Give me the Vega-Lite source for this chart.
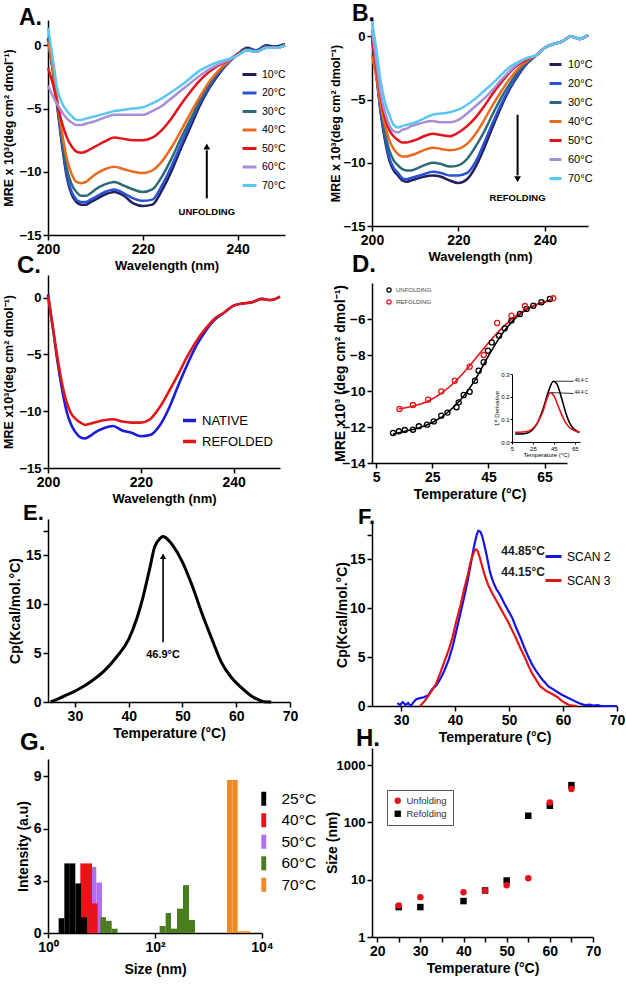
{
 "$schema": "https://vega.github.io/schema/vega-lite/v6.json",
 "background": "white",
 "padding": {"left": 2, "top": 3, "right": 2, "bottom": 2},
 "config": {
  "view": {"stroke": null},
  "font": "Liberation Sans",
  "axis": {"grid": false, "domainColor": "#000", "domainWidth": 1.5, "tickColor": "#000", "tickWidth": 1.5, "tickSize": 5, "labelFont": "Liberation Sans", "labelFontWeight": "bold", "labelColor": "#000", "labelFontSize": 14, "titleFont": "Liberation Sans", "titleFontWeight": "bold", "titleColor": "#000", "titleFontSize": 14, "labelPadding": 2, "labelFlush": false, "labelOverlap": false, "titlePadding": 3},
  "legend": {"labelFont": "Liberation Sans", "labelColor": "#000", "titleFont": "Liberation Sans"},
  "title": {"font": "Liberation Sans", "fontWeight": "bold", "color": "#000", "anchor": "start", "frame": "group", "fontSize": 24}
 },
 "datasets": {
  "A": [
   {"wl":200,"10°C":0.5,"20°C":0.6,"30°C":0.4,"40°C":0.3,"50°C":-1.8,"60°C":-3.2,"70°C":1.4},
   {"wl":201,"10°C":-2.0,"20°C":-1.8,"30°C":-1.8,"40°C":-1.8,"50°C":-3.0,"60°C":-4.0,"70°C":-1.0},
   {"wl":202,"10°C":-5.0,"20°C":-4.8,"30°C":-4.6,"40°C":-4.5,"50°C":-4.7,"60°C":-4.7,"70°C":-3.5},
   {"wl":203,"10°C":-8.0,"20°C":-7.8,"30°C":-7.4,"40°C":-7.0,"50°C":-6.2,"60°C":-5.3,"70°C":-4.6},
   {"wl":204,"10°C":-10.5,"20°C":-10.3,"30°C":-9.8,"40°C":-9.0,"50°C":-7.3,"60°C":-5.8,"70°C":-5.2},
   {"wl":205,"10°C":-11.8,"20°C":-11.6,"30°C":-11.0,"40°C":-10.2,"50°C":-8.0,"60°C":-6.1,"70°C":-5.6},
   {"wl":206,"10°C":-12.4,"20°C":-12.2,"30°C":-11.6,"40°C":-10.8,"50°C":-8.4,"60°C":-6.3,"70°C":-5.9},
   {"wl":207,"10°C":-12.6,"20°C":-12.4,"30°C":-11.9,"40°C":-10.9,"50°C":-8.5,"60°C":-6.3,"70°C":-5.9},
   {"wl":208,"10°C":-12.6,"20°C":-12.4,"30°C":-11.9,"40°C":-10.8,"50°C":-8.4,"60°C":-6.2,"70°C":-5.8},
   {"wl":209,"10°C":-12.4,"20°C":-12.2,"30°C":-11.7,"40°C":-10.5,"50°C":-8.2,"60°C":-6.1,"70°C":-5.7},
   {"wl":210,"10°C":-12.2,"20°C":-12.0,"30°C":-11.4,"40°C":-10.2,"50°C":-8.0,"60°C":-6.0,"70°C":-5.6},
   {"wl":212,"10°C":-11.8,"20°C":-11.6,"30°C":-11.0,"40°C":-9.8,"50°C":-7.6,"60°C":-5.7,"70°C":-5.4},
   {"wl":214,"10°C":-11.6,"20°C":-11.4,"30°C":-10.8,"40°C":-9.6,"50°C":-7.3,"60°C":-5.5,"70°C":-5.2},
   {"wl":216,"10°C":-11.9,"20°C":-11.7,"30°C":-11.1,"40°C":-9.8,"50°C":-7.4,"60°C":-5.5,"70°C":-5.1},
   {"wl":218,"10°C":-12.5,"20°C":-12.1,"30°C":-11.4,"40°C":-10.0,"50°C":-7.5,"60°C":-5.5,"70°C":-5.0},
   {"wl":220,"10°C":-12.7,"20°C":-12.3,"30°C":-11.6,"40°C":-10.1,"50°C":-7.5,"60°C":-5.5,"70°C":-4.9},
   {"wl":222,"10°C":-12.6,"20°C":-12.2,"30°C":-11.4,"40°C":-9.9,"50°C":-7.3,"60°C":-5.2,"70°C":-4.6},
   {"wl":224,"10°C":-11.5,"20°C":-11.1,"30°C":-10.4,"40°C":-9.2,"50°C":-6.7,"60°C":-4.8,"70°C":-4.2},
   {"wl":226,"10°C":-10.0,"20°C":-9.6,"30°C":-9.0,"40°C":-8.1,"50°C":-5.8,"60°C":-4.2,"70°C":-3.7},
   {"wl":228,"10°C":-8.2,"20°C":-7.9,"30°C":-7.4,"40°C":-6.8,"50°C":-4.7,"60°C":-3.6,"70°C":-3.2},
   {"wl":230,"10°C":-6.5,"20°C":-6.2,"30°C":-5.9,"40°C":-5.4,"50°C":-3.7,"60°C":-3.0,"70°C":-2.6},
   {"wl":232,"10°C":-4.8,"20°C":-4.6,"30°C":-4.4,"40°C":-4.1,"50°C":-2.8,"60°C":-2.4,"70°C":-2.0},
   {"wl":234,"10°C":-3.4,"20°C":-3.3,"30°C":-3.1,"40°C":-2.9,"50°C":-2.1,"60°C":-1.9,"70°C":-1.6},
   {"wl":236,"10°C":-2.3,"20°C":-2.2,"30°C":-2.1,"40°C":-2.0,"50°C":-1.6,"60°C":-1.5,"70°C":-1.3},
   {"wl":238,"10°C":-1.4,"20°C":-1.4,"30°C":-1.3,"40°C":-1.3,"50°C":-1.2,"60°C":-1.2,"70°C":-1.1},
   {"wl":240,"10°C":-0.7,"20°C":-0.7,"30°C":-0.7,"40°C":-0.7,"50°C":-0.7,"60°C":-0.8,"70°C":-0.8},
   {"wl":242,"10°C":-0.2,"20°C":-0.3,"30°C":-0.3,"40°C":-0.4,"50°C":-0.4,"60°C":-0.4,"70°C":-0.4},
   {"wl":244,"10°C":-0.4,"20°C":-0.4,"30°C":-0.5,"40°C":-0.5,"50°C":-0.5,"60°C":-0.5,"70°C":-0.5},
   {"wl":246,"10°C":0.0,"20°C":-0.1,"30°C":-0.1,"40°C":-0.2,"50°C":-0.2,"60°C":-0.2,"70°C":-0.2},
   {"wl":248,"10°C":-0.1,"20°C":-0.2,"30°C":-0.2,"40°C":-0.2,"50°C":-0.2,"60°C":-0.2,"70°C":-0.2},
   {"wl":250,"10°C":0.1,"20°C":0.0,"30°C":0.0,"40°C":0.0,"50°C":0.0,"60°C":0.0,"70°C":0.0}
  ],
  "B": [
   {"wl":200,"10°C":0.0,"20°C":0.0,"30°C":0.0,"40°C":-1.5,"50°C":-0.2,"60°C":0.5,"70°C":1.2},
   {"wl":201,"10°C":-3.0,"20°C":-3.0,"30°C":-2.8,"40°C":-3.2,"50°C":-2.5,"60°C":-2.0,"70°C":-1.0},
   {"wl":202,"10°C":-6.0,"20°C":-5.9,"30°C":-5.6,"40°C":-5.4,"50°C":-4.8,"60°C":-4.5,"70°C":-3.5},
   {"wl":203,"10°C":-8.2,"20°C":-8.0,"30°C":-7.6,"40°C":-7.0,"50°C":-6.4,"60°C":-6.0,"70°C":-5.2},
   {"wl":204,"10°C":-9.8,"20°C":-9.6,"30°C":-9.0,"40°C":-8.2,"50°C":-7.4,"60°C":-7.0,"70°C":-6.2},
   {"wl":205,"10°C":-10.6,"20°C":-10.4,"30°C":-9.8,"40°C":-8.9,"50°C":-7.9,"60°C":-7.5,"70°C":-7.0},
   {"wl":206,"10°C":-11.0,"20°C":-10.8,"30°C":-10.2,"40°C":-9.3,"50°C":-8.2,"60°C":-7.6,"70°C":-7.2},
   {"wl":207,"10°C":-11.4,"20°C":-11.2,"30°C":-10.5,"40°C":-9.5,"50°C":-8.4,"60°C":-7.4,"70°C":-7.1},
   {"wl":208,"10°C":-11.5,"20°C":-11.3,"30°C":-10.6,"40°C":-9.5,"50°C":-8.4,"60°C":-7.3,"70°C":-7.0},
   {"wl":209,"10°C":-11.4,"20°C":-11.2,"30°C":-10.6,"40°C":-9.4,"50°C":-8.3,"60°C":-7.1,"70°C":-6.9},
   {"wl":210,"10°C":-11.3,"20°C":-11.1,"30°C":-10.5,"40°C":-9.3,"50°C":-8.2,"60°C":-7.0,"70°C":-6.8},
   {"wl":212,"10°C":-11.1,"20°C":-10.9,"30°C":-10.2,"40°C":-9.0,"50°C":-7.9,"60°C":-6.8,"70°C":-6.5},
   {"wl":214,"10°C":-11.0,"20°C":-10.7,"30°C":-10.0,"40°C":-8.8,"50°C":-7.7,"60°C":-6.7,"70°C":-6.2},
   {"wl":216,"10°C":-11.1,"20°C":-10.8,"30°C":-10.1,"40°C":-8.9,"50°C":-7.8,"60°C":-6.8,"70°C":-6.1},
   {"wl":218,"10°C":-11.4,"20°C":-11.0,"30°C":-10.3,"40°C":-9.0,"50°C":-7.9,"60°C":-6.8,"70°C":-6.0},
   {"wl":220,"10°C":-11.6,"20°C":-11.0,"30°C":-10.2,"40°C":-8.9,"50°C":-7.6,"60°C":-6.6,"70°C":-5.8},
   {"wl":222,"10°C":-11.3,"20°C":-10.8,"30°C":-9.7,"40°C":-8.5,"50°C":-7.1,"60°C":-6.1,"70°C":-5.4},
   {"wl":224,"10°C":-10.3,"20°C":-9.9,"30°C":-8.7,"40°C":-7.7,"50°C":-6.4,"60°C":-5.5,"70°C":-4.9},
   {"wl":226,"10°C":-8.8,"20°C":-8.4,"30°C":-7.5,"40°C":-6.6,"50°C":-5.5,"60°C":-4.9,"70°C":-4.3},
   {"wl":228,"10°C":-7.1,"20°C":-6.8,"30°C":-6.1,"40°C":-5.4,"50°C":-4.5,"60°C":-4.2,"70°C":-3.7},
   {"wl":230,"10°C":-5.5,"20°C":-5.3,"30°C":-4.8,"40°C":-4.3,"50°C":-3.6,"60°C":-3.4,"70°C":-3.0},
   {"wl":232,"10°C":-4.1,"20°C":-4.0,"30°C":-3.7,"40°C":-3.3,"50°C":-2.8,"60°C":-2.7,"70°C":-2.4},
   {"wl":234,"10°C":-3.0,"20°C":-2.9,"30°C":-2.7,"40°C":-2.5,"50°C":-2.2,"60°C":-2.1,"70°C":-2.0},
   {"wl":236,"10°C":-2.1,"20°C":-2.1,"30°C":-2.0,"40°C":-1.9,"50°C":-1.8,"60°C":-1.7,"70°C":-1.7},
   {"wl":238,"10°C":-1.5,"20°C":-1.5,"30°C":-1.5,"40°C":-1.5,"50°C":-1.5,"60°C":-1.5,"70°C":-1.5},
   {"wl":240,"10°C":-0.9,"20°C":-0.9,"30°C":-0.9,"40°C":-0.9,"50°C":-0.9,"60°C":-0.9,"70°C":-0.9},
   {"wl":242,"10°C":-0.6,"20°C":-0.6,"30°C":-0.6,"40°C":-0.6,"50°C":-0.6,"60°C":-0.6,"70°C":-0.6},
   {"wl":244,"10°C":-0.4,"20°C":-0.4,"30°C":-0.4,"40°C":-0.4,"50°C":-0.4,"60°C":-0.4,"70°C":-0.4},
   {"wl":246,"10°C":0.0,"20°C":0.0,"30°C":0.0,"40°C":0.0,"50°C":0.0,"60°C":0.0,"70°C":0.0},
   {"wl":248,"10°C":-0.2,"20°C":-0.2,"30°C":-0.2,"40°C":-0.2,"50°C":-0.2,"60°C":-0.2,"70°C":-0.2},
   {"wl":250,"10°C":0.1,"20°C":0.1,"30°C":0.1,"40°C":0.1,"50°C":0.1,"60°C":0.1,"70°C":0.1}
  ],
  "C": [
   {"wl":200,"NATIVE":0.3,"REFOLDED":0.2},{"wl":201,"NATIVE":-2.5,"REFOLDED":-2.5},{"wl":202,"NATIVE":-5.5,"REFOLDED":-5.2},
   {"wl":203,"NATIVE":-8.0,"REFOLDED":-7.5},{"wl":204,"NATIVE":-10.0,"REFOLDED":-9.2},{"wl":205,"NATIVE":-11.2,"REFOLDED":-10.2},
   {"wl":206,"NATIVE":-11.9,"REFOLDED":-10.7},{"wl":207,"NATIVE":-12.3,"REFOLDED":-11.0},{"wl":208,"NATIVE":-12.4,"REFOLDED":-11.2},
   {"wl":209,"NATIVE":-12.2,"REFOLDED":-11.1},{"wl":210,"NATIVE":-11.9,"REFOLDED":-11.0},{"wl":212,"NATIVE":-11.5,"REFOLDED":-10.8},
   {"wl":214,"NATIVE":-11.3,"REFOLDED":-10.7},{"wl":216,"NATIVE":-11.7,"REFOLDED":-10.9},{"wl":218,"NATIVE":-11.9,"REFOLDED":-11.0},
   {"wl":220,"NATIVE":-12.2,"REFOLDED":-11.0},{"wl":222,"NATIVE":-12.1,"REFOLDED":-10.7},{"wl":224,"NATIVE":-11.3,"REFOLDED":-9.7},
   {"wl":226,"NATIVE":-9.8,"REFOLDED":-8.3},{"wl":228,"NATIVE":-7.8,"REFOLDED":-6.8},{"wl":230,"NATIVE":-5.9,"REFOLDED":-5.2},
   {"wl":232,"NATIVE":-4.2,"REFOLDED":-3.8},{"wl":234,"NATIVE":-2.9,"REFOLDED":-2.7},{"wl":236,"NATIVE":-1.9,"REFOLDED":-1.8},
   {"wl":238,"NATIVE":-1.3,"REFOLDED":-1.3},{"wl":240,"NATIVE":-0.7,"REFOLDED":-0.7},{"wl":242,"NATIVE":-0.5,"REFOLDED":-0.5},
   {"wl":244,"NATIVE":-0.4,"REFOLDED":-0.4},{"wl":246,"NATIVE":-0.1,"REFOLDED":-0.1},{"wl":248,"NATIVE":-0.2,"REFOLDED":-0.2},
   {"wl":250,"NATIVE":0.1,"REFOLDED":0.1}
  ],
  "Dp": [
   {"t":11,"v":-12.33,"series":"UNFOLDING"},{"t":13.1,"v":-12.24,"series":"UNFOLDING"},{"t":15.2,"v":-12.17,"series":"UNFOLDING"},
   {"t":18.1,"v":-12.15,"series":"UNFOLDING"},{"t":20.2,"v":-11.96,"series":"UNFOLDING"},{"t":23.1,"v":-11.87,"series":"UNFOLDING"},
   {"t":25.5,"v":-11.69,"series":"UNFOLDING"},{"t":28.2,"v":-11.37,"series":"UNFOLDING"},{"t":30.4,"v":-11.2,"series":"UNFOLDING"},
   {"t":33.6,"v":-10.9,"series":"UNFOLDING"},{"t":34.4,"v":-10.63,"series":"UNFOLDING"},{"t":36.2,"v":-10.22,"series":"UNFOLDING"},
   {"t":38.3,"v":-10.04,"series":"UNFOLDING"},{"t":40.2,"v":-9.43,"series":"UNFOLDING"},{"t":41.5,"v":-8.87,"series":"UNFOLDING"},
   {"t":43.3,"v":-8.4,"series":"UNFOLDING"},{"t":44.8,"v":-7.76,"series":"UNFOLDING"},{"t":46.2,"v":-7.3,"series":"UNFOLDING"},
   {"t":48.8,"v":-6.93,"series":"UNFOLDING"},{"t":50.8,"v":-6.52,"series":"UNFOLDING"},{"t":53.2,"v":-6.09,"series":"UNFOLDING"},
   {"t":56.2,"v":-5.72,"series":"UNFOLDING"},{"t":58.6,"v":-5.44,"series":"UNFOLDING"},{"t":61,"v":-5.26,"series":"UNFOLDING"},
   {"t":63.9,"v":-5.07,"series":"UNFOLDING"},{"t":66.9,"v":-4.89,"series":"UNFOLDING"},
   {"t":13.3,"v":-11.0,"series":"REFOLDING"},{"t":18.1,"v":-10.78,"series":"REFOLDING"},{"t":23.5,"v":-10.48,"series":"REFOLDING"},
   {"t":28.2,"v":-10.02,"series":"REFOLDING"},{"t":33,"v":-9.43,"series":"REFOLDING"},{"t":38.3,"v":-8.65,"series":"REFOLDING"},
   {"t":43.3,"v":-8.0,"series":"REFOLDING"},{"t":48.1,"v":-6.22,"series":"REFOLDING"},{"t":53.2,"v":-5.81,"series":"REFOLDING"},
   {"t":58,"v":-5.28,"series":"REFOLDING"},{"t":68.1,"v":-4.85,"series":"REFOLDING"}
  ],
  "Df": [
   {"t":11,"v":-12.4,"series":"UNFOLDING"},{"t":15,"v":-12.25,"series":"UNFOLDING"},{"t":20,"v":-12.05,"series":"UNFOLDING"},
   {"t":25,"v":-11.75,"series":"UNFOLDING"},{"t":30,"v":-11.25,"series":"UNFOLDING"},{"t":35,"v":-10.5,"series":"UNFOLDING"},
   {"t":40,"v":-9.45,"series":"UNFOLDING"},{"t":45,"v":-8.05,"series":"UNFOLDING"},{"t":50,"v":-6.8,"series":"UNFOLDING"},
   {"t":55,"v":-5.9,"series":"UNFOLDING"},{"t":60,"v":-5.35,"series":"UNFOLDING"},{"t":65,"v":-5.05,"series":"UNFOLDING"},
   {"t":67,"v":-4.95,"series":"UNFOLDING"},
   {"t":13,"v":-11.0,"series":"REFOLDING"},{"t":18,"v":-10.85,"series":"REFOLDING"},{"t":23,"v":-10.6,"series":"REFOLDING"},
   {"t":28,"v":-10.15,"series":"REFOLDING"},{"t":33,"v":-9.5,"series":"REFOLDING"},{"t":38,"v":-8.65,"series":"REFOLDING"},
   {"t":43,"v":-7.7,"series":"REFOLDING"},{"t":48,"v":-6.8,"series":"REFOLDING"},{"t":53,"v":-6.05,"series":"REFOLDING"},
   {"t":58,"v":-5.5,"series":"REFOLDING"},{"t":63,"v":-5.15,"series":"REFOLDING"},{"t":68,"v":-4.95,"series":"REFOLDING"}
  ],
  "Di": [
   {"t":8,"d":0.035,"series":"u"},{"t":15,"d":0.036,"series":"u"},{"t":20,"d":0.04,"series":"u"},{"t":25,"d":0.055,"series":"u"},
   {"t":30,"d":0.09,"series":"u"},{"t":35,"d":0.15,"series":"u"},{"t":40,"d":0.225,"series":"u"},{"t":44.5,"d":0.268,"series":"u"},
   {"t":48,"d":0.255,"series":"u"},{"t":52,"d":0.2,"series":"u"},{"t":56,"d":0.135,"series":"u"},{"t":60,"d":0.085,"series":"u"},
   {"t":64,"d":0.058,"series":"u"},{"t":69.5,"d":0.042,"series":"u"},
   {"t":8,"d":0.043,"series":"r"},{"t":15,"d":0.044,"series":"r"},{"t":20,"d":0.047,"series":"r"},{"t":25,"d":0.06,"series":"r"},
   {"t":30,"d":0.09,"series":"r"},{"t":35,"d":0.14,"series":"r"},{"t":38,"d":0.185,"series":"r"},{"t":41.5,"d":0.218,"series":"r"},
   {"t":45,"d":0.205,"series":"r"},{"t":49,"d":0.16,"series":"r"},{"t":53,"d":0.115,"series":"r"},{"t":57,"d":0.08,"series":"r"},
   {"t":61,"d":0.06,"series":"r"},{"t":65,"d":0.05,"series":"r"},{"t":69.5,"d":0.045,"series":"r"}
  ],
  "E": [
   {"t":25.5,"cp":0},{"t":27,"cp":0.35},{"t":29.4,"cp":0.95},{"t":31,"cp":1.4},{"t":33,"cp":2.1},{"t":35.5,"cp":3.2},
   {"t":37.9,"cp":4.7},{"t":40,"cp":6.4},{"t":41.5,"cp":8.5},{"t":42.7,"cp":10.8},{"t":43.9,"cp":13.6},{"t":44.8,"cp":15.8},
   {"t":45.8,"cp":16.7},{"t":46.4,"cp":16.9},{"t":47.3,"cp":16.6},{"t":48.2,"cp":16.0},{"t":50,"cp":14.3},{"t":51.8,"cp":11.9},
   {"t":53.6,"cp":9.1},{"t":55.5,"cp":6.4},{"t":57.3,"cp":4.0},{"t":59.1,"cp":2.5},{"t":60.9,"cp":1.5},{"t":63.3,"cp":0.45},
   {"t":65.8,"cp":0},{"t":66.5,"cp":0}
  ],
  "F": [
   {"t":29.3,"cp":0.3,"series":"SCAN 2"},{"t":29.8,"cp":0.1,"series":"SCAN 2"},{"t":30.3,"cp":0.4,"series":"SCAN 2"},{"t":30.8,"cp":0.1,"series":"SCAN 2"},
   {"t":31.3,"cp":0.3,"series":"SCAN 2"},{"t":31.8,"cp":0.0,"series":"SCAN 2"},{"t":32.3,"cp":0.4,"series":"SCAN 2"},{"t":32.8,"cp":0.7,"series":"SCAN 2"},
   {"t":33.5,"cp":0.8,"series":"SCAN 2"},{"t":34.2,"cp":0.9,"series":"SCAN 2"},{"t":35,"cp":1.1,"series":"SCAN 2"},{"t":35.7,"cp":1.7,"series":"SCAN 2"},
   {"t":36.5,"cp":2.1,"series":"SCAN 2"},{"t":37.2,"cp":2.7,"series":"SCAN 2"},{"t":38,"cp":3.6,"series":"SCAN 2"},{"t":38.8,"cp":4.7,"series":"SCAN 2"},
   {"t":39.5,"cp":6.0,"series":"SCAN 2"},{"t":40.2,"cp":7.6,"series":"SCAN 2"},{"t":41,"cp":9.5,"series":"SCAN 2"},{"t":41.7,"cp":11.2,"series":"SCAN 2"},
   {"t":42.4,"cp":13.0,"series":"SCAN 2"},{"t":43,"cp":14.8,"series":"SCAN 2"},{"t":43.5,"cp":16.3,"series":"SCAN 2"},{"t":44,"cp":17.5,"series":"SCAN 2"},
   {"t":44.3,"cp":17.9,"series":"SCAN 2"},{"t":44.7,"cp":17.8,"series":"SCAN 2"},{"t":45,"cp":17.4,"series":"SCAN 2"},{"t":45.4,"cp":16.5,"series":"SCAN 2"},
   {"t":45.8,"cp":15.5,"series":"SCAN 2"},{"t":46.5,"cp":13.6,"series":"SCAN 2"},{"t":47.1,"cp":12.6,"series":"SCAN 2"},{"t":47.6,"cp":12.0,"series":"SCAN 2"},
   {"t":48.4,"cp":11.3,"series":"SCAN 2"},{"t":49.1,"cp":10.5,"series":"SCAN 2"},{"t":49.8,"cp":9.8,"series":"SCAN 2"},{"t":50.6,"cp":9.0,"series":"SCAN 2"},
   {"t":51.3,"cp":8.0,"series":"SCAN 2"},{"t":52.1,"cp":7.0,"series":"SCAN 2"},{"t":52.8,"cp":6.0,"series":"SCAN 2"},{"t":53.6,"cp":5.0,"series":"SCAN 2"},
   {"t":54.3,"cp":4.2,"series":"SCAN 2"},{"t":55.1,"cp":3.5,"series":"SCAN 2"},{"t":56,"cp":2.8,"series":"SCAN 2"},{"t":57.3,"cp":2.0,"series":"SCAN 2"},
   {"t":58.5,"cp":1.6,"series":"SCAN 2"},{"t":59.6,"cp":1.2,"series":"SCAN 2"},{"t":60.7,"cp":0.9,"series":"SCAN 2"},{"t":61.8,"cp":0.6,"series":"SCAN 2"},
   {"t":62.9,"cp":0.3,"series":"SCAN 2"},{"t":64,"cp":0.1,"series":"SCAN 2"},{"t":65,"cp":0.15,"series":"SCAN 2"},{"t":65.5,"cp":0.05,"series":"SCAN 2"},
   {"t":66.5,"cp":0.1,"series":"SCAN 2"},{"t":67,"cp":0,"series":"SCAN 2"},{"t":70,"cp":0,"series":"SCAN 2"},
   {"t":33.5,"cp":0,"series":"SCAN 3"},{"t":34.2,"cp":0.4,"series":"SCAN 3"},{"t":35,"cp":1.0,"series":"SCAN 3"},{"t":35.7,"cp":1.6,"series":"SCAN 3"},
   {"t":36.5,"cp":2.3,"series":"SCAN 3"},{"t":37.2,"cp":3.3,"series":"SCAN 3"},{"t":38,"cp":4.5,"series":"SCAN 3"},{"t":38.8,"cp":5.7,"series":"SCAN 3"},
   {"t":39.5,"cp":7.0,"series":"SCAN 3"},{"t":40.2,"cp":8.6,"series":"SCAN 3"},{"t":41,"cp":10.3,"series":"SCAN 3"},{"t":41.7,"cp":12.0,"series":"SCAN 3"},
   {"t":42.4,"cp":13.5,"series":"SCAN 3"},{"t":42.8,"cp":14.6,"series":"SCAN 3"},{"t":43.2,"cp":15.3,"series":"SCAN 3"},{"t":43.6,"cp":15.9,"series":"SCAN 3"},
   {"t":43.9,"cp":16.0,"series":"SCAN 3"},{"t":44.2,"cp":15.8,"series":"SCAN 3"},{"t":44.5,"cp":15.3,"series":"SCAN 3"},{"t":45,"cp":14.3,"series":"SCAN 3"},
   {"t":45.4,"cp":13.5,"series":"SCAN 3"},{"t":46.1,"cp":12.4,"series":"SCAN 3"},{"t":46.9,"cp":11.5,"series":"SCAN 3"},{"t":47.6,"cp":10.8,"series":"SCAN 3"},
   {"t":48.4,"cp":10.0,"series":"SCAN 3"},{"t":49.1,"cp":9.3,"series":"SCAN 3"},{"t":49.9,"cp":8.5,"series":"SCAN 3"},{"t":50.6,"cp":7.7,"series":"SCAN 3"},
   {"t":51.4,"cp":6.8,"series":"SCAN 3"},{"t":52.1,"cp":5.9,"series":"SCAN 3"},{"t":52.9,"cp":5.0,"series":"SCAN 3"},{"t":53.6,"cp":4.1,"series":"SCAN 3"},
   {"t":54.3,"cp":3.3,"series":"SCAN 3"},{"t":55.1,"cp":2.6,"series":"SCAN 3"},{"t":55.8,"cp":2.0,"series":"SCAN 3"},{"t":57,"cp":1.5,"series":"SCAN 3"},
   {"t":58.1,"cp":1.2,"series":"SCAN 3"},{"t":59,"cp":0.9,"series":"SCAN 3"},{"t":59.6,"cp":0.6,"series":"SCAN 3"},{"t":60.4,"cp":0.3,"series":"SCAN 3"},
   {"t":61.1,"cp":0.1,"series":"SCAN 3"},{"t":62.6,"cp":0,"series":"SCAN 3"}
  ],
  "G": [
   {"temp":"70°C","lo":2218,"hi":2786,"h":8.8},{"temp":"70°C","lo":2786,"hi":3508,"h":8.8},{"temp":"70°C","lo":3508,"hi":4540,"h":0.1},{"temp":"70°C","lo":4540,"hi":6050,"h":0.1},
   {"temp":"50°C","lo":6.64,"hi":8.0,"h":3.8},{"temp":"50°C","lo":8.0,"hi":10.2,"h":2.9},{"temp":"50°C","lo":10.2,"hi":12.1,"h":0.9},
   {"temp":"40°C","lo":4.02,"hi":5.13,"h":4.0},{"temp":"40°C","lo":5.13,"hi":6.64,"h":4.0},{"temp":"40°C","lo":6.64,"hi":8.48,"h":1.7},
   {"temp":"25°C","lo":1.58,"hi":2.02,"h":0.85},{"temp":"25°C","lo":2.02,"hi":2.56,"h":4.0},{"temp":"25°C","lo":2.56,"hi":3.24,"h":4.0},
   {"temp":"25°C","lo":3.24,"hi":4.14,"h":2.85},{"temp":"25°C","lo":4.14,"hi":5.36,"h":0.9},
   {"temp":"60°C","lo":9.5,"hi":12.1,"h":0.9},{"temp":"60°C","lo":12.1,"hi":15.5,"h":0.7},{"temp":"60°C","lo":15.5,"hi":20,"h":0.25},
   {"temp":"60°C","lo":122,"hi":158,"h":0.4},{"temp":"60°C","lo":158,"hi":199,"h":1.15},{"temp":"60°C","lo":199,"hi":258,"h":0.25},
   {"temp":"60°C","lo":258,"hi":334,"h":1.4},{"temp":"60°C","lo":334,"hi":432,"h":2.75},{"temp":"60°C","lo":432,"hi":560,"h":0.75}
  ],
  "H": [
   {"t":25,"size":3.33,"series":"Refolding"},{"t":30,"size":3.33,"series":"Refolding"},{"t":40,"size":4.24,"series":"Refolding"},
   {"t":45,"size":6.5,"series":"Refolding"},{"t":50,"size":9.7,"series":"Refolding"},{"t":55,"size":131,"series":"Refolding"},
   {"t":60,"size":196,"series":"Refolding"},{"t":65,"size":449,"series":"Refolding"},
   {"t":25,"size":3.56,"series":"Unfolding"},{"t":30,"size":4.97,"series":"Unfolding"},{"t":40,"size":6.07,"series":"Unfolding"},
   {"t":45,"size":6.4,"series":"Unfolding"},{"t":50,"size":8.04,"series":"Unfolding"},{"t":55,"size":10.6,"series":"Unfolding"},
   {"t":60,"size":224,"series":"Unfolding"},{"t":65,"size":383,"series":"Unfolding"}
  ]
 },
 "spacing": 8,
 "resolve": {"scale": {"color": "independent", "shape": "independent"}, "legend": {"color": "independent", "shape": "independent"}},
 "hconcat": [
  {
   "spacing": 0, "bounds": "flush",
   "resolve": {"scale": {"color": "independent", "shape": "independent"}, "legend": {"color": "independent", "shape": "independent"}},
   "vconcat": [
    {
     "width": 237, "height": 215,
     "title": {"text": "A.", "dx": -29, "offset": -10, "fontSize": 23},
     "layer": [
      {"data": {"name": "A"},
       "transform": [{"fold": ["10°C","20°C","30°C","40°C","50°C","60°C","70°C"], "as": ["temp","mre"]}],
       "mark": {"type": "line", "strokeWidth": 2.5, "interpolate": "monotone"},
       "encoding": {
        "x": {"field": "wl", "type": "quantitative", "scale": {"domain": [200, 250], "nice": false}, "axis": {"values": [200, 220, 240], "title": "Wavelength (nm)", "titleFontSize": 13}},
        "y": {"field": "mre", "type": "quantitative", "scale": {"domain": [-15, 2], "nice": false}, "axis": {"values": [-15, -10, -5, 0], "title": "MRE x 10³(deg cm² dmol⁻¹)", "titleFontSize": 12.5, "labelFontSize": 13}},
        "color": {"field": "temp", "type": "nominal", "scale": {"domain": ["10°C","20°C","30°C","40°C","50°C","60°C","70°C"], "range": ["#231f5c","#2a52d4","#2c6a78","#ea6a1e","#e3121b","#a78ed8","#5cc7f2"]},
         "legend": {"title": null, "orient": "none", "legendX": 193, "legendY": 46, "symbolType": "stroke", "symbolSize": 196, "symbolStrokeWidth": 3, "labelFontSize": 10.5, "rowPadding": 3.5, "labelOffset": 4}}
       }},
      {"data": {"values": [{}]}, "mark": {"type": "rule", "strokeWidth": 2, "color": "#000"}, "encoding": {"x": {"datum": 233.5}, "y": {"datum": -12.1}, "y2": {"datum": -8.3}}},
      {"data": {"values": [{}]}, "mark": {"type": "point", "shape": "triangle-up", "filled": true, "color": "#000", "size": 45, "opacity": 1}, "encoding": {"x": {"datum": 233.5}, "y": {"datum": -8.0}}},
      {"data": {"values": [{}]}, "mark": {"type": "text", "text": "UNFOLDING", "fontWeight": "bold", "fontSize": 9.5, "color": "#000"}, "encoding": {"x": {"datum": 233.5}, "y": {"datum": -13.2}}}
     ]
    },
    {"width": 5, "height": 40, "data": {"values": [{}]}, "mark": {"type": "point", "opacity": 0}},
    {
     "width": 232, "height": 193,
     "title": {"text": "C.", "dx": -31, "offset": -3},
     "data": {"name": "C"},
     "transform": [{"fold": ["NATIVE","REFOLDED"], "as": ["kind","mre"]}],
     "mark": {"type": "line", "strokeWidth": 2.6, "interpolate": "monotone"},
     "encoding": {
      "x": {"field": "wl", "type": "quantitative", "scale": {"domain": [200, 250], "nice": false}, "axis": {"values": [200, 220, 240], "title": "Wavelength (nm)", "titleFontSize": 13}},
      "y": {"field": "mre", "type": "quantitative", "scale": {"domain": [-15, 2], "nice": false}, "axis": {"values": [-15, -10, -5, 0], "title": "MRE x10³(deg cm² dmol⁻¹)", "titleFontSize": 12.5, "labelFontSize": 13}},
      "color": {"field": "kind", "type": "nominal", "scale": {"domain": ["NATIVE","REFOLDED"], "range": ["#1a1ae0","#e31616"]},
       "legend": {"title": null, "orient": "none", "legendX": 133, "legendY": 137, "symbolType": "stroke", "symbolSize": 169, "symbolStrokeWidth": 3.5, "labelFontSize": 13, "rowPadding": 5, "labelOffset": 4}}
     }
    },
    {"width": 5, "height": 51, "data": {"values": [{}]}, "mark": {"type": "point", "opacity": 0}},
    {
     "width": 242, "height": 183,
     "title": {"text": "E.", "dx": -25, "offset": -6, "fontSize": 22},
     "layer": [
      {"data": {"name": "E"}, "mark": {"type": "line", "color": "#000", "strokeWidth": 3, "interpolate": "monotone"},
       "encoding": {
        "x": {"field": "t", "type": "quantitative", "scale": {"domain": [25, 70], "nice": false}, "axis": {"values": [30,35,40,45,50,55,60,65,70], "labelExpr": "datum.value % 10 == 0 ? datum.label : ''", "title": "Temperature (°C)"}},
        "y": {"field": "cp", "type": "quantitative", "scale": {"domain": [0, 18.7], "nice": false}, "axis": {"values": [0,5,10,15,17.5], "labelExpr": "datum.value % 5 == 0 ? datum.label : ''", "title": "Cp(Kcal/mol.°C)"}}
       }},
      {"data": {"values": [{}]}, "mark": {"type": "rule", "strokeWidth": 1.6, "color": "#000"}, "encoding": {"x": {"datum": 46.4}, "y": {"datum": 6.1}, "y2": {"datum": 14.6}}},
      {"data": {"values": [{}]}, "mark": {"type": "point", "shape": "triangle-up", "filled": true, "color": "#000", "size": 40, "opacity": 1}, "encoding": {"x": {"datum": 46.4}, "y": {"datum": 14.9}}},
      {"data": {"values": [{}]}, "mark": {"type": "text", "text": "46.9°C", "fontWeight": "bold", "fontSize": 11, "color": "#000"}, "encoding": {"x": {"datum": 46.4}, "y": {"datum": 4.8}}}
     ]
    },
    {"width": 5, "height": 57, "data": {"values": [{}]}, "mark": {"type": "point", "opacity": 0}},
    {
     "width": 214, "height": 174,
     "title": {"text": "G.", "dx": -28, "offset": 4},
     "data": {"name": "G"},
     "mark": {"type": "rect"},
     "encoding": {
      "x": {"field": "lo", "type": "quantitative", "scale": {"type": "log", "domain": [1, 10000]}, "axis": {"values": [1, 100, 10000], "labelExpr": "datum.value == 1 ? '10⁰' : (datum.value == 100 ? '10²' : '10⁴')", "title": "Size (nm)", "titlePadding": 8}},
      "x2": {"field": "hi"},
      "y": {"field": "h", "type": "quantitative", "scale": {"domain": [0, 10], "nice": false}, "axis": {"values": [0, 3, 6, 9], "title": "Intensity (a.u)"}},
      "y2": {"datum": 0},
      "color": {"field": "temp", "type": "nominal", "scale": {"domain": ["25°C","40°C","50°C","60°C","70°C"], "range": ["#000000","#e8141a","#b26ef0","#4a7d1e","#f08a24"]},
       "legend": {"title": null, "orient": "none", "legendX": 208, "legendY": 32, "symbolType": "M-0.35,-1H0.35V1H-0.35Z", "symbolSize": 196, "symbolStrokeWidth": 0, "labelFontSize": 15.5, "rowPadding": 4.5, "labelOffset": 10}}
     }
    }
   ]
  },
  {
   "spacing": 0, "bounds": "flush",
   "resolve": {"scale": {"color": "independent", "shape": "independent"}, "legend": {"color": "independent", "shape": "independent"}},
   "vconcat": [
    {
     "width": 216, "height": 206,
     "title": {"text": "B.", "dx": -20, "offset": -10, "fontSize": 23},
     "layer": [
      {"data": {"name": "B"},
       "transform": [{"fold": ["10°C","20°C","30°C","40°C","50°C","60°C","70°C"], "as": ["temp","mre"]}],
       "mark": {"type": "line", "strokeWidth": 2.5, "interpolate": "monotone"},
       "encoding": {
        "x": {"field": "wl", "type": "quantitative", "scale": {"domain": [200, 250], "nice": false}, "axis": {"values": [200, 220, 240], "title": "Wavelength (nm)", "titleFontSize": 13}},
        "y": {"field": "mre", "type": "quantitative", "scale": {"domain": [-15, 1.3], "nice": false}, "axis": {"values": [-15, -10, -5, 0], "title": "MRE x 10³(deg cm² dmol⁻¹)", "titleFontSize": 12.5, "labelFontSize": 13, "titlePadding": 0}},
        "color": {"field": "temp", "type": "nominal", "scale": {"domain": ["10°C","20°C","30°C","40°C","50°C","60°C","70°C"], "range": ["#231f5c","#2a52d4","#2c6a78","#ea6a1e","#e3121b","#a78ed8","#5cc7f2"]},
         "legend": {"title": null, "orient": "none", "legendX": 176, "legendY": 37, "symbolType": "stroke", "symbolSize": 144, "symbolStrokeWidth": 3, "labelFontSize": 11, "rowPadding": 5, "labelOffset": 5}}
       }},
      {"data": {"values": [{}]}, "mark": {"type": "rule", "strokeWidth": 2, "color": "#000"}, "encoding": {"x": {"datum": 233.7}, "y": {"datum": -6.2}, "y2": {"datum": -11.0}}},
      {"data": {"values": [{}]}, "mark": {"type": "point", "shape": "triangle-down", "filled": true, "color": "#000", "size": 45, "opacity": 1}, "encoding": {"x": {"datum": 233.7}, "y": {"datum": -11.3}}},
      {"data": {"values": [{}]}, "mark": {"type": "text", "text": "REFOLDING", "fontWeight": "bold", "fontSize": 9.5, "color": "#000"}, "encoding": {"x": {"datum": 233.7}, "y": {"datum": -12.8}}}
     ]
    },
    {"width": 5, "height": 57, "data": {"values": [{}]}, "mark": {"type": "point", "opacity": 0}},
    {
     "width": 195, "height": 180,
     "title": {"text": "D.", "dx": -20, "offset": 6},
     "resolve": {"scale": {"x": "independent", "y": "independent", "color": "independent"}, "axis": {"x": "independent", "y": "independent"}},
     "layer": [
      {
       "layer": [
        {"data": {"name": "Df"}, "transform": [{"filter": "datum.series == 'UNFOLDING'"}], "mark": {"type": "line", "color": "#000", "strokeWidth": 1.6, "interpolate": "monotone"},
         "encoding": {
          "x": {"field": "t", "type": "quantitative", "scale": {"domain": [3.5, 73], "nice": false}, "axis": {"values": [5, 25, 45, 65], "title": "Temperature (°C)"}},
          "y": {"field": "v", "type": "quantitative", "scale": {"domain": [-14, -4], "nice": false}, "axis": {"values": [-14, -12, -10, -8, -6], "title": "MRE x10³ (deg cm² dmol⁻¹)", "labelFontSize": 13.5, "titlePadding": -5}}
         }},
        {"data": {"name": "Df"}, "transform": [{"filter": "datum.series == 'REFOLDING'"}], "mark": {"type": "line", "color": "#e8141a", "strokeWidth": 1.6, "interpolate": "monotone"},
         "encoding": {"x": {"field": "t", "type": "quantitative"}, "y": {"field": "v", "type": "quantitative"}}},
        {"data": {"name": "Dp"}, "mark": {"type": "point", "filled": false, "size": 26, "strokeWidth": 1.3, "opacity": 1},
         "encoding": {
          "x": {"field": "t", "type": "quantitative"}, "y": {"field": "v", "type": "quantitative"},
          "color": {"field": "series", "type": "nominal", "scale": {"domain": ["UNFOLDING","REFOLDING"], "range": ["#000000","#e8141a"]},
           "legend": {"title": null, "orient": "none", "legendX": 14, "legendY": 4, "symbolType": "circle", "symbolSize": 18, "symbolStrokeWidth": 1.2, "labelFontSize": 6, "labelColor": "#444", "rowPadding": 2, "labelOffset": 4}}
         }}
       ]
      },
      {
       "layer": [
        {"data": {"name": "Di"}, "mark": {"type": "line", "strokeWidth": 1.6, "interpolate": "monotone"},
         "encoding": {
          "x": {"field": "t", "type": "quantitative", "scale": {"domain": [5, 70], "range": [140, 208], "nice": false}, "axis": {"orient": "bottom", "offset": -21, "values": [5, 25, 45, 65], "title": "Temperature (°C)", "labelFontSize": 6, "titleFontSize": 6, "labelFontWeight": "normal", "titleFontWeight": "normal", "tickSize": 2, "domainWidth": 1, "tickWidth": 1, "labelPadding": 1, "titlePadding": 0}},
          "y": {"field": "d", "type": "quantitative", "scale": {"domain": [0, 0.3], "range": [159, 91], "nice": false}, "axis": {"orient": "left", "offset": -140, "values": [0, 0.1, 0.2, 0.3], "format": ".1f", "title": "1ˢᵗ Derivative", "labelFontSize": 6, "titleFontSize": 6, "labelFontWeight": "normal", "titleFontWeight": "normal", "tickSize": 2, "domainWidth": 1, "tickWidth": 1, "labelPadding": 1, "titlePadding": 1}},
          "color": {"field": "series", "type": "nominal", "scale": {"domain": ["u","r"], "range": ["#000000","#e8141a"]}, "legend": null}
         }},
        {"data": {"values": [{}]}, "mark": {"type": "rule", "strokeWidth": 0.8, "color": "#000"}, "encoding": {"x": {"datum": 46}, "x2": {"datum": 64}, "y": {"datum": 0.268}}},
        {"data": {"values": [{}]}, "mark": {"type": "rule", "strokeWidth": 0.8, "color": "#000"}, "encoding": {"x": {"datum": 43}, "x2": {"datum": 64}, "y": {"datum": 0.218}, "y2": {"datum": 0.214}}},
        {"data": {"values": [{}]}, "mark": {"type": "text", "text": "46.4 C", "fontSize": 4.5, "align": "left", "color": "#000"}, "encoding": {"x": {"datum": 65}, "y": {"datum": 0.268}}},
        {"data": {"values": [{}]}, "mark": {"type": "text", "text": "44.4 C", "fontSize": 4.5, "align": "left", "color": "#000"}, "encoding": {"x": {"datum": 65}, "y": {"datum": 0.214}}}
       ]
      }
     ]
    },
    {"width": 5, "height": 60, "data": {"values": [{}]}, "mark": {"type": "point", "opacity": 0}},
    {
     "width": 245, "height": 183,
     "title": {"text": "F.", "dx": -14, "offset": -6, "fontSize": 22},
     "layer": [
      {"data": {"name": "F"}, "mark": {"type": "line", "strokeWidth": 2.2},
       "encoding": {
        "x": {"field": "t", "type": "quantitative", "scale": {"domain": [24.6, 70], "nice": false}, "axis": {"values": [30,35,40,45,50,55,60,65,70], "labelExpr": "datum.value % 10 == 0 ? datum.label : ''", "title": "Temperature (°C)"}},
        "y": {"field": "cp", "type": "quantitative", "scale": {"domain": [0, 18.7], "nice": false}, "axis": {"values": [0,5,10,15,17.5], "labelExpr": "datum.value % 5 == 0 ? datum.label : ''", "title": "Cp(Kcal/mol.°C)", "titlePadding": 0}},
        "color": {"field": "series", "type": "nominal", "scale": {"domain": ["SCAN 2","SCAN 3"], "range": ["#1414e6","#e31616"]},
         "legend": {"title": null, "orient": "none", "legendX": 172, "legendY": 24, "symbolType": "stroke", "symbolSize": 256, "symbolStrokeWidth": 3, "labelFontSize": 12, "rowPadding": 8, "labelOffset": 4}}
       }},
      {"data": {"values": [{}]}, "mark": {"type": "text", "text": "44.85°C", "fontWeight": "bold", "fontSize": 12, "color": "#1a1a1a"}, "encoding": {"x": {"datum": 52.6}, "y": {"datum": 15.8}}},
      {"data": {"values": [{}]}, "mark": {"type": "text", "text": "44.15°C", "fontWeight": "bold", "fontSize": 12, "color": "#1a1a1a"}, "encoding": {"x": {"datum": 52.6}, "y": {"datum": 13.7}}}
     ]
    },
    {"width": 5, "height": 42, "data": {"values": [{}]}, "mark": {"type": "point", "opacity": 0}},
    {
     "width": 221, "height": 189,
     "title": {"text": "H.", "dx": -16, "offset": -3},
     "data": {"name": "H"},
     "mark": {"type": "point", "filled": true, "opacity": 1, "size": 42},
     "encoding": {
      "x": {"field": "t", "type": "quantitative", "scale": {"domain": [18.8, 70], "nice": false}, "axis": {"values": [20,25,30,35,40,45,50,55,60,65,70], "labelExpr": "datum.value % 10 == 0 ? datum.label : ''", "title": "Temperature (°C)"}},
      "y": {"field": "size", "type": "quantitative", "scale": {"type": "log", "domain": [1, 2000], "nice": false}, "axis": {"values": [1, 10, 100, 1000], "format": "d", "title": "Size (nm)", "labelFontSize": 13, "titlePadding": -3}},
      "color": {"field": "series", "type": "nominal", "scale": {"domain": ["Unfolding","Refolding"], "range": ["#e8101a","#000000"]},
       "legend": {"title": null, "orient": "none", "legendX": 15, "legendY": 42, "labelFontSize": 9.5, "symbolSize": 40, "strokeColor": "#555", "padding": 6, "rowPadding": 2, "labelColor": "#333"}},
      "shape": {"field": "series", "type": "nominal", "scale": {"domain": ["Unfolding","Refolding"], "range": ["circle","square"]},
       "legend": {"title": null, "orient": "none", "legendX": 15, "legendY": 42, "labelFontSize": 9.5, "symbolSize": 40, "strokeColor": "#555", "padding": 6, "rowPadding": 2, "labelColor": "#333"}}
     }
    }
   ]
  }
 ]
}
